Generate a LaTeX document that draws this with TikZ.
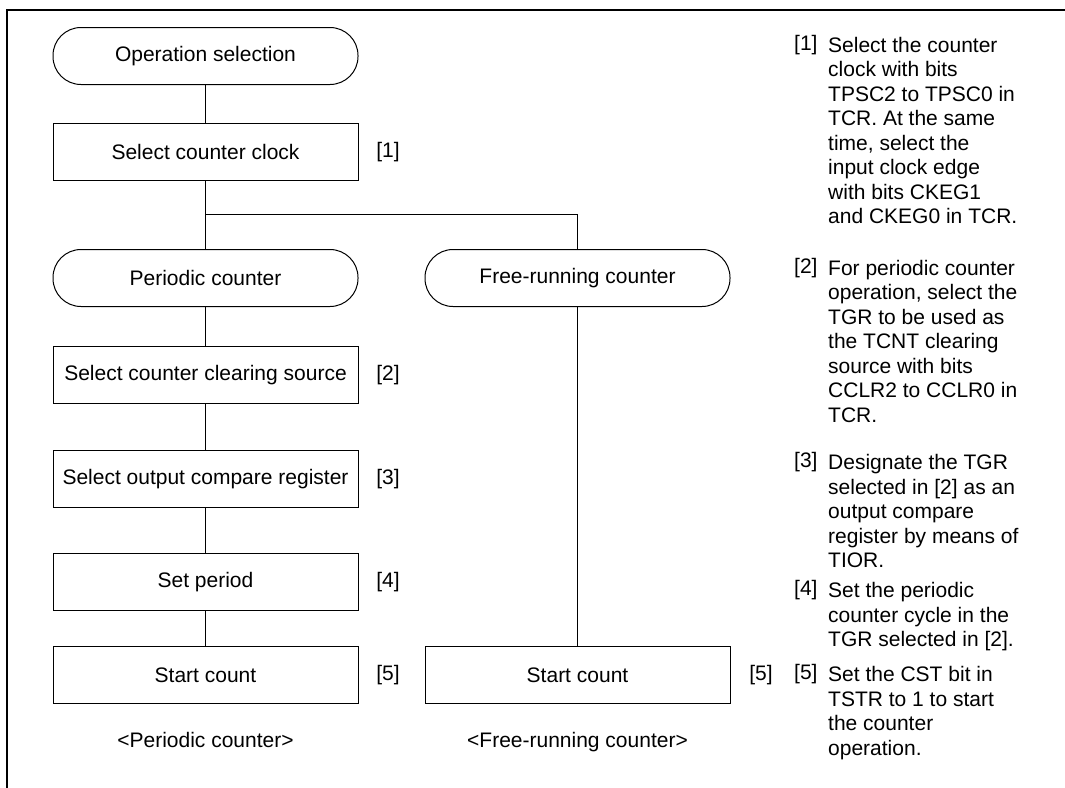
\documentclass[tikz,border=0pt]{standalone}
\usepackage{fontspec}
\setmainfont{Liberation Sans}
\begin{document}
\begin{tikzpicture}[x=1pt,y=-1pt,
  every node/.style={font=\fontsize{21}{24.5}\selectfont, inner sep=0pt},
  proc/.style={draw, line width=1pt, minimum width=305pt, minimum height=57pt},
  term/.style={proc, rounded corners=28pt},
  link/.style={line width=1pt},
  tag/.style={anchor=center},
  notenum/.style={anchor=north west},
  note/.style={anchor=north west, align=left}]
\useasboundingbox (0,0) rectangle (1065,787);
\draw[line width=2.5pt] (7,790) -- (7,10) -- (1068,10);

% left column
\node[term] (op)  at (205.5,56)  {Operation selection};
\node[proc] (clk) at (205.5,152) {Select counter clock};
\node[term] (per) at (205.5,278) {Periodic counter};
\node[term] (free) at (577.5,278) {Free-running counter};
\node[proc] (clr) at (205.5,375) {Select counter clearing source};
\node[proc] (ocr) at (205.5,479) {Select output compare register};
\node[proc] (setp) at (205.5,582) {Set period};
\node[proc] (stl) at (205.5,675) {Start count};
\node[proc] (str) at (577.5,675) {Start count};
\coordinate (br) at (205.5,214);

\draw[link] (op) -- (clk);
\draw[link] (clk) -- (per);
\draw[link] (br) -| (free);
\draw[link] (per) -- (clr);
\draw[link] (clr) -- (ocr);
\draw[link] (ocr) -- (setp);
\draw[link] (setp) -- (stl);
\draw[link] (free) -- (str);

\node[tag] (t1) at (388,152) {[1]};
\node[tag] (t2) at (388,375) {[2]};
\node[tag] (t3) at (388,479) {[3]};
\node[tag] (t4) at (388,582) {[4]};
\node[tag] (t5) at (388,675) {[5]};
\node[tag] (t5b) at (761,675) {[5]};

\node (capl) at (205.5,740) {<Periodic counter>};
\node (capr) at (577.5,742) {<Free-running counter>};

% notes
\node[notenum] (n1) at (794,35) {[1]};
\node[note] (p1) at (828,37) {Select the counter\\clock with bits\\TPSC2 to TPSC0 in\\TCR. At the same\\time, select the\\input clock edge\\with bits CKEG1\\and CKEG0 in TCR.};
\node[notenum] (n2) at (794,258) {[2]};
\node[note] (p2) at (828,260) {For periodic counter\\operation, select the\\TGR to be used as\\the TCNT clearing\\source with bits\\CCLR2 to CCLR0 in\\TCR.};
\node[notenum] (n3) at (794,452.5) {[3]};
\node[note] (p3) at (828,454.5) {Designate the TGR\\selected in [2] as an\\output compare\\register by means of\\TIOR.};
\node[notenum] (n4) at (794,580.5) {[4]};
\node[note] (p4) at (828,582.5) {Set the periodic\\counter cycle in the\\TGR selected in [2].};
\node[notenum] (n5) at (794,664.5) {[5]};
\node[note] (p5) at (828,666.5) {Set the CST bit in\\TSTR to 1 to start\\the counter\\operation.};
\end{tikzpicture}
\end{document}
